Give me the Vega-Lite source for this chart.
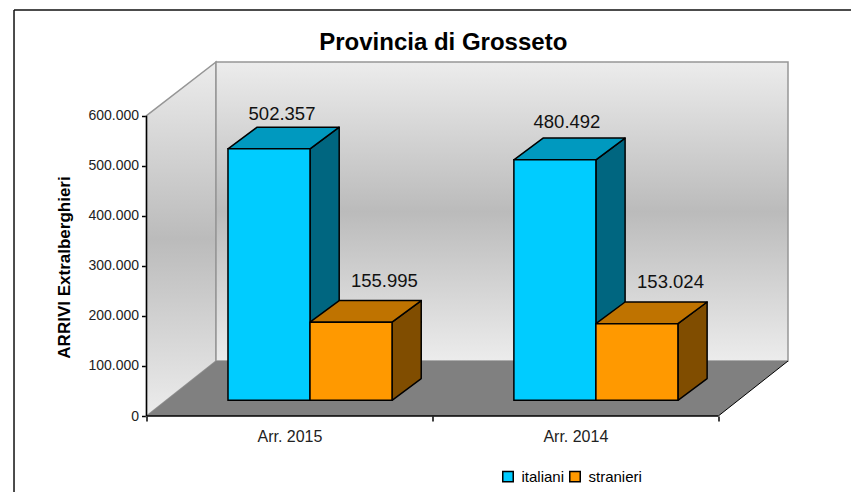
{"$schema":"https://vega.github.io/schema/vega-lite/v6.json","width":641.5,"height":354,"autosize":{"type":"none"},"padding":{"left":146.5,"top":62,"right":63,"bottom":76},"background":"white","view":{"stroke":null},"title":{"text":"Provincia di Grosseto","font":"Liberation Sans","fontSize":24,"fontWeight":"bold","color":"black","anchor":"middle","dx":-24,"offset":-46},"config":{"font":"Liberation Sans"},"datasets":{"barre":[{"periodo":"Arr. 2015","serie":"italiani","valore":502357},{"periodo":"Arr. 2015","serie":"stranieri","valore":155995},{"periodo":"Arr. 2014","serie":"italiani","valore":480492},{"periodo":"Arr. 2014","serie":"stranieri","valore":153024}]},"transform":[],"resolve":{"scale":{"color":"independent"}},"layer":[
{"data":{"values":[{"x":0,"y":600000,"y2":0},{"x":0.2431,"y":707293,"y2":109890}]},"mark":{"type":"area","orient":"vertical","stroke":"#969696","strokeWidth":1.5,"color":{"gradient":"linear","x1":0,"y1":0,"x2":0,"y2":1,"stops":[{"offset":0,"color":"#ececec"},{"offset":0.5,"color":"#bbbbbb"},{"offset":1,"color":"#ececec"}]}},"encoding":{"x":{"field":"x","type":"quantitative","scale":{"domain":[0,2.2438],"nice":false,"zero":false},"axis":{"values":[0,0.5,1,1.5,2],"title":null,"grid":false,"domain":false,"tickColor":"black","tickWidth":1.5,"tickSize":5,"tickOpacity":{"condition":{"test":"datum.value==0.5||datum.value==1.5","value":0},"value":1},"labelExpr":"datum.value==0.5?'Arr. 2015':datum.value==1.5?'Arr. 2014':''","labelFont":"Liberation Sans","labelFontSize":16,"labelColor":"#222222","labelPadding":7,"labelFlush":false,"labelOverlap":false,"labelAlign":"center"}},"y":{"field":"y","type":"quantitative","stack":null,"scale":{"domain":[0,707293],"nice":false},"axis":{"values":[0,100000,200000,300000,400000,500000,600000],"title":"ARRIVI Extralberghieri","titleFont":"Liberation Sans","titleFontSize":17,"titleFontWeight":"bold","titleColor":"black","titleX":-73,"titleY":205,"grid":false,"domain":false,"tickColor":"black","tickWidth":1.5,"tickSize":5,"labelExpr":"replace(format(datum.value,','),',','.')","labelFont":"Liberation Sans","labelFontSize":14,"labelColor":"#222222","labelPadding":3}},"y2":{"field":"y2"}}},
{"data":{"values":[{"x":0.2431,"y":707293,"y2":109890},{"x":2.2438,"y":707293,"y2":109890}]},"mark":{"type":"area","orient":"vertical","stroke":"#969696","strokeWidth":1.5,"color":{"gradient":"linear","x1":0,"y1":0,"x2":0,"y2":1,"stops":[{"offset":0,"color":"#ececec"},{"offset":0.5,"color":"#bbbbbb"},{"offset":1,"color":"#ececec"}]}},"encoding":{"x":{"field":"x","type":"quantitative"},"y":{"field":"y","type":"quantitative","stack":null},"y2":{"field":"y2"}}},
{"data":{"values":[{"x":0,"y":0,"y2":0},{"x":0.2431,"y":109890,"y2":0},{"x":2,"y":109890,"y2":0},{"x":2.2438,"y":109890,"y2":109890}]},"mark":{"type":"area","orient":"vertical","color":"#808080"},"encoding":{"x":{"field":"x","type":"quantitative"},"y":{"field":"y","type":"quantitative","stack":null},"y2":{"field":"y2"}}},
{"data":{"values":[{"x":2,"y":0},{"x":2.2438,"y":109890}]},"mark":{"type":"line","color":"black","strokeWidth":1},"encoding":{"x":{"field":"x","type":"quantitative"},"y":{"field":"y","type":"quantitative"}}},
{"data":{"values":[{"x":0,"y":600000,"x2":0,"y2":0},{"x":0,"y":0,"x2":2,"y2":0}]},"mark":{"type":"rule","color":"black","strokeWidth":1.5},"encoding":{"x":{"field":"x","type":"quantitative"},"x2":{"field":"x2"},"y":{"field":"y","type":"quantitative"},"y2":{"field":"y2"}}},
{"data":{"name":"barre"},"transform":[{"calculate":"(datum.periodo=='Arr. 2015'?0:1)+(datum.serie=='italiani'?0.285:0.5719)+0.2869","as":"xr"},{"calculate":"[0,1]","as":"t"},{"flatten":["t"]},{"calculate":"datum.xr+datum.t*0.1021","as":"xs"},{"calculate":"31369+datum.t*43357","as":"yb"},{"calculate":"datum.valore+31369+datum.t*43357","as":"yt"}],"mark":{"type":"area","orient":"vertical","stroke":"black","strokeWidth":1.5,"strokeJoin":"round"},"encoding":{"x":{"field":"xs","type":"quantitative"},"y":{"field":"yt","type":"quantitative","stack":null},"y2":{"field":"yb"},"detail":{"field":"periodo"},"color":{"field":"serie","type":"nominal","scale":{"domain":["italiani","stranieri"],"range":["#006680","#804D00"]},"legend":null}}},
{"data":{"name":"barre"},"transform":[{"calculate":"(datum.periodo=='Arr. 2015'?0:1)+(datum.serie=='italiani'?0.285:0.5719)","as":"xl"},{"calculate":"datum.valore+31369","as":"tf"},{"calculate":"[0,1,2,3]","as":"t"},{"flatten":["t"]},{"calculate":"datum.xl+[0,0.1021,0.2869,0.389][datum.t]","as":"xs"},{"calculate":"datum.tf+[0,43357,43357,43357][datum.t]","as":"yt"},{"calculate":"datum.tf+[0,0,0,43357][datum.t]","as":"yb"}],"mark":{"type":"area","orient":"vertical","stroke":"black","strokeWidth":1.5,"strokeJoin":"round"},"encoding":{"x":{"field":"xs","type":"quantitative"},"y":{"field":"yt","type":"quantitative","stack":null},"y2":{"field":"yb"},"detail":{"field":"periodo"},"color":{"field":"serie","type":"nominal","scale":{"domain":["italiani","stranieri"],"range":["#0099BF","#BF7300"]},"legend":null}}},
{"data":{"name":"barre"},"transform":[{"calculate":"(datum.periodo=='Arr. 2015'?0:1)+(datum.serie=='italiani'?0.285:0.5719)","as":"xl"},{"calculate":"datum.xl+0.2869","as":"xr"},{"calculate":"datum.valore+31369","as":"tf"},{"calculate":"31369","as":"bf"}],"mark":{"type":"rect","stroke":"black","strokeWidth":1.5},"encoding":{"x":{"field":"xl","type":"quantitative"},"x2":{"field":"xr"},"y":{"field":"tf","type":"quantitative"},"y2":{"field":"bf"},"color":{"field":"serie","type":"nominal","scale":{"domain":["italiani","stranieri"],"range":["#00CCFF","#FF9900"]},"legend":{"title":null,"orient":"none","legendX":354,"legendY":407,"direction":"horizontal","columns":2,"symbolType":"square","symbolSize":110,"symbolStrokeColor":"black","symbolStrokeWidth":1.5,"symbolOpacity":1,"labelFont":"Liberation Sans","labelFontSize":15,"labelColor":"black","columnPadding":2,"labelOffset":6}}}},
{"data":{"name":"barre"},"transform":[{"calculate":"{'Arr. 2015italiani':[0.4739,25714],'Arr. 2015stranieri':[0.832,39009],'Arr. 2014italiani':[1.4707,31595],'Arr. 2014stranieri':[1.8328,40981]}[datum.periodo+datum.serie]","as":"pos"},{"calculate":"datum.pos[0]","as":"lx"},{"calculate":"datum.valore+31369+43357+datum.pos[1]","as":"ly"},{"calculate":"replace(format(datum.valore,','),',','.')","as":"etichetta"}],"mark":{"type":"text","font":"Liberation Sans","fontSize":18.5,"color":"#111111","baseline":"middle","align":"center"},"encoding":{"x":{"field":"lx","type":"quantitative"},"y":{"field":"ly","type":"quantitative"},"text":{"field":"etichetta"}}},
{"data":{"values":[{"x":-0.4634,"x2":2.4642,"y":811200,"y2":811200},{"x":-0.4634,"x2":-0.4634,"y":811200,"y2":-152000}]},"mark":{"type":"rule","color":"#111111","strokeWidth":1.5},"encoding":{"x":{"field":"x","type":"quantitative"},"x2":{"field":"x2"},"y":{"field":"y","type":"quantitative"},"y2":{"field":"y2"}}}
]}
